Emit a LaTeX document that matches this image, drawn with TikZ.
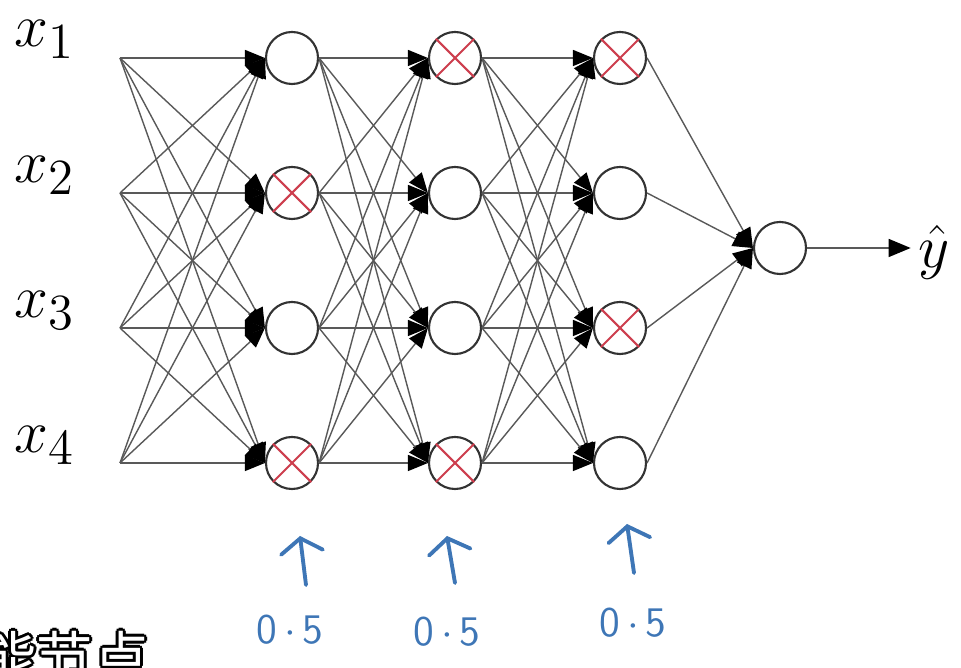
\documentclass[tikz,border=0pt]{standalone}
\usepackage{fontspec}
\newfontfamily\cjkfont{Noto Sans CJK SC}
\usetikzlibrary{arrows.meta}
\definecolor{handblue}{RGB}{62,118,182}
\definecolor{dropred}{RGB}{205,62,78}

\begin{document}
\begin{tikzpicture}[x=0.01cm, y=-0.01cm,
    neuron/.style={circle, draw=black!80, line width=0.6pt,
      minimum size=0.52cm, inner sep=0pt, fill=white},
    link/.style={draw=black!65, line width=0.4pt,
      -{Triangle[length=0.2cm,width=0.16cm,color=black]}},
    dropx/.style={draw=dropred, line width=0.6pt},
    inlabel/.style={anchor=base west, inner sep=0pt,
      font=\fontsize{19}{23}\selectfont},
    hand/.style={draw=handblue, line width=1.1pt, line cap=round,
      -{Straight Barb[length=0.14cm,width=0.42cm,line cap=round]}},
    handnum/.style={text=handblue, inner sep=0pt,
      font=\sffamily\fontsize{12}{14}\selectfont}]
    \useasboundingbox (0,0) rectangle (961,668);
    % input labels
    \node[inlabel] (x1) at (14,47) {$x_1$};
    \node[inlabel] (x2) at (14,183) {$x_2$};
    \node[inlabel] (x3) at (14,318) {$x_3$};
    \node[inlabel] (x4) at (14,453) {$x_4$};
    % layers
    \foreach \i/\y in {1/58,2/193,3/328,4/463} {
      \coordinate (in\i) at (120,\y);
      \node[neuron] (a\i) at (292,\y) {};
      \node[neuron] (b\i) at (455,\y) {};
      \node[neuron] (c\i) at (620,\y) {};
    }
    \node[neuron] (out) at (780,248) {};
    \node[inner sep=2pt, font=\fontsize{18}{22}\selectfont] (yhat) at (934,252) {$\hat{y}$};
    % connections
    \foreach \i in {1,...,4} {
      \foreach \j in {1,...,4} {
        \draw[link] (in\i) -- (a\j.west);
        \draw[link] (a\i.east) -- (b\j.west);
        \draw[link] (b\i.east) -- (c\j.west);
      }
      \draw[link] (c\i.east) -- (out.west);
    }
    \draw[link, -{Triangle[length=0.22cm,width=0.18cm,color=black]}] (out.east) -- (yhat.west |- out.east);
    % dropped units
    \foreach \n in {a2,a4,b1,b4,c1,c3} {
      \draw[dropx] (\n.north east) -- (\n.south west)
                   (\n.north west) -- (\n.south east);
    }
    % keep-prob notes
    \node[handnum] (p1) at (290,630) {0\,$\cdot$\,5};
    \node[handnum] (p2) at (447,632) {0\,$\cdot$\,5};
    \node[handnum] (p3) at (633,623) {0\,$\cdot$\,5};
    \coordinate (t1) at (300,536);
    \coordinate (t2) at (447,536);
    \coordinate (t3) at (627,524);
    \draw[hand] (306,585) -- (t1);
    \draw[hand] (455,583) -- (t2);
    \draw[hand] (634,573) -- (t3);
    % subtitle
    \foreach \dx/\dy in {-3/0,3/0,0/-3,0/3,-2/-2,2/2,-2/2,2/-2} {
      \node[inner sep=0pt, text=black, font=\cjkfont\fontsize{16}{18}\selectfont]
        at (65+\dx,657+\dy) {能节点};
    }
    \node[inner sep=0pt, text=white, font=\cjkfont\fontsize{16}{18}\selectfont]
      (sub) at (65,657) {能节点};
\end{tikzpicture}
\end{document}
